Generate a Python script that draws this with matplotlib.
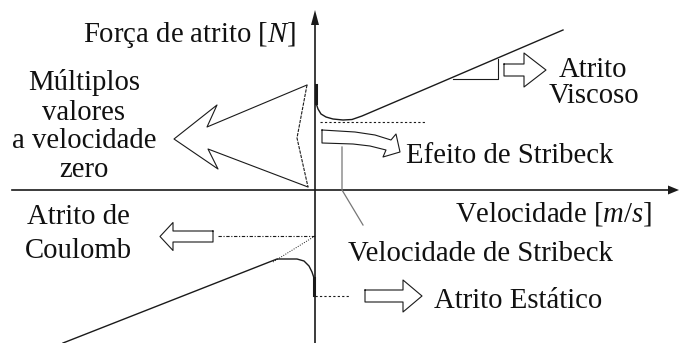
import matplotlib
matplotlib.use("Agg")
import matplotlib.pyplot as plt
import numpy as np

plt.rcParams['font.family'] = ['Liberation Serif', 'DejaVu Serif']
plt.rcParams['mathtext.fontset'] = 'custom'
plt.rcParams['mathtext.rm'] = 'Liberation Serif'
plt.rcParams['mathtext.it'] = 'Liberation Serif:italic'

# friction curve, positive velocity (v, F) in drawing units
pos_static_v = [1, 1]
pos_static_f = [105, 87]
pos_v = [1, 3, 6, 11, 18, 28, 37, 47, 115, 248]
pos_f = [87, 81, 76, 73, 71, 70, 70.5, 74, 103, 160]

# friction curve, negative velocity
neg_static_v = [-1, -1]
neg_static_f = [-88, -105]
neg_v = [-1, -3, -6, -11, -18, -38, -252]
neg_f = [-88, -82, -76, -71, -69, -69, -153]

# reference lines
stribeck_min_v = [5, 110]
stribeck_min_f = [68, 68]
coulomb_v = [-97, 0]
coulomb_f = [-46, -46]
coulomb_ext_v = [-42, 0]
coulomb_ext_f = [-72, -46]
static_v = [0, 35]
static_f = [-106, -106]
viscous_tri_v = [138, 183, 183]
viscous_tri_f = [111, 111, 131]
stribeck_vel_v = [27, 27, 48]
stribeck_vel_f = [43, 0, -35]

# big "multiple values" arrow outline
big_solid_v = [-8, -108, -98, -141, -97, -107, -7]
big_solid_f = [105, 63, 85, 51, 21, 41, 3]
big_dash_v = [-8, -18, -7]
big_dash_f = [105, 52, 3]

# curved Stribeck arrow outline
str_arrow_v = [7, 40, 60, 76, 81, 85, 68, 71, 55, 38, 7, 7]
str_arrow_f = [60, 58, 55, 50, 56, 38, 33, 40, 44, 46, 47, 60]

LINE = '#1a1a1a'
TXT = '#111111'


def hollow_arrow(ax, start, head, tip, yc, shaft_hw, head_hw):
    xs = [start, head, head, tip, head, head, start, start]
    ys = [yc + shaft_hw, yc + shaft_hw, yc + head_hw, yc, yc - head_hw,
          yc - shaft_hw, yc - shaft_hw, yc + shaft_hw]
    ax.plot(xs, ys, color=LINE, lw=0.8)


fig = plt.figure(figsize=(6.79, 3.43), dpi=100)
ax = fig.add_axes([0, 0, 1, 1])
ax.set_xlim(-315, 364)
ax.set_ylim(-153, 190)
ax.axis('off')

# axes with arrow heads
ax.plot([-303, 354], [0, 0], color=LINE, lw=1.2)
ax.fill([353, 353, 364], [4.5, -4.5, 0], color=LINE, lw=0)
ax.plot([0, 0], [-153, 166], color=LINE, lw=1.2)
ax.fill([-4, 4, 0], [165, 165, 180], color=LINE, lw=0)

# friction curves
ax.plot(pos_v, pos_f, color=LINE, lw=1.0)
ax.plot(pos_static_v, pos_static_f, color=LINE, lw=2.2)
ax.plot(neg_v, neg_f, color=LINE, lw=1.0)
ax.plot(neg_static_v, neg_static_f, color=LINE, lw=2.2)

ax.plot(stribeck_min_v, stribeck_min_f, color=LINE, lw=0.8, ls=(0, (2, 2)))
ax.plot(coulomb_v, coulomb_f, color=LINE, lw=0.8, ls=(0, (3, 1.5, 1, 1.5)))
ax.plot(coulomb_ext_v, coulomb_ext_f, color=LINE, lw=0.7, ls=(0, (1, 1.5)))
ax.plot(static_v, static_f, color=LINE, lw=0.8, ls=(0, (2, 2)))
ax.plot(viscous_tri_v, viscous_tri_f, color=LINE, lw=0.8)
ax.plot(stribeck_vel_v, stribeck_vel_f, color='#777777', lw=0.9)

ax.plot(big_solid_v, big_solid_f, color=LINE, lw=0.8)
ax.plot(big_dash_v, big_dash_f, color=LINE, lw=0.8, ls=(0, (3, 1)))
ax.plot(str_arrow_v, str_arrow_f, color=LINE, lw=0.8)

hollow_arrow(ax, 189, 209, 231, 120, 6, 17)
hollow_arrow(ax, -102, -142, -155, -46.5, 5.5, 14)
hollow_arrow(ax, 50, 88, 107, -106, 6, 16)

fs = 20.7
ax.text(-19, 148, r'Força de atrito $[N]$', fontsize=fs, color=TXT, ha='right', va='baseline')
for txt, y in zip(['Múltiplos', 'valores', 'a velocidade', 'zero'], [100, 70, 42, 13]):
    ax.text(-231, y, txt, fontsize=fs, color=TXT, ha='center', va='baseline')
ax.text(278, 113, 'Atrito', fontsize=fs, color=TXT, ha='center', va='baseline')
ax.text(279, 87, 'Viscoso', fontsize=fs, color=TXT, ha='center', va='baseline')
ax.text(91, 27, 'Efeito de Stribeck', fontsize=fs, color=TXT, ha='left', va='baseline')
ax.text(337, -32, r'Velocidade $[m/s]$', fontsize=fs, color=TXT, ha='right', va='baseline')
ax.text(33, -71, 'Velocidade de Stribeck', fontsize=fs, color=TXT, ha='left', va='baseline')
ax.text(119, -118, 'Atrito Estático', fontsize=fs, color=TXT, ha='left', va='baseline')
ax.text(-237, -34, 'Atrito de', fontsize=fs, color=TXT, ha='center', va='baseline')
ax.text(-237, -68, 'Coulomb', fontsize=fs, color=TXT, ha='center', va='baseline')

fig.savefig('out.png', dpi=100)
